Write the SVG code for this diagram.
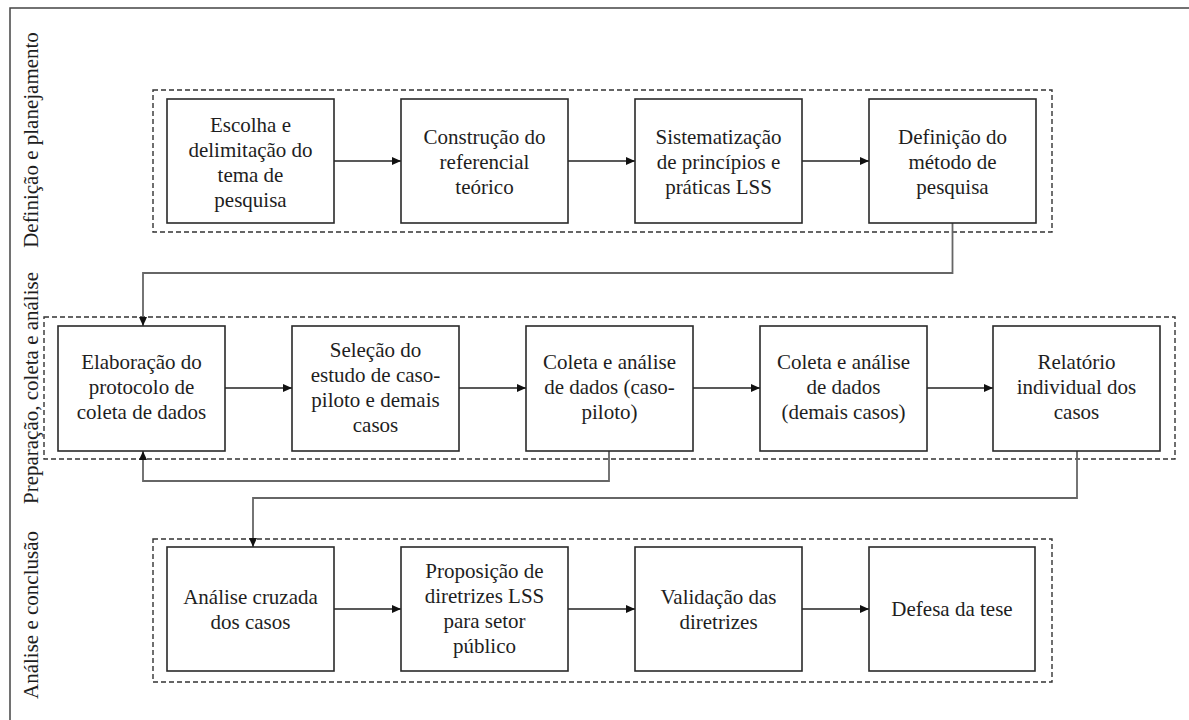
<svg xmlns="http://www.w3.org/2000/svg" width="1189" height="720" viewBox="0 0 1189 720" font-family="Liberation Serif">
  <style>
    .frame { fill: none; stroke: #333; stroke-width: 1.4; stroke-dasharray: 5 3; }
    .box { fill: #fff; stroke: #2a2a2a; stroke-width: 1.6; }
    text { font-size: 21px; fill: #1e1e1e; text-anchor: middle; }
    .arrow { fill: none; stroke: #222; stroke-width: 1.5; marker-end: url(#head); }
    .route { fill: none; stroke: #666; stroke-width: 1.8; marker-end: url(#head); }
    .border { fill: none; stroke: #444; stroke-width: 1.5; }
  </style>
  <defs>
    <marker id="head" markerUnits="userSpaceOnUse" markerWidth="10" markerHeight="8" refX="9" refY="4" orient="auto">
      <path d="M0,0 L9,4 L0,8 z" fill="#111"/>
    </marker>
  </defs>

  <rect width="1189" height="720" fill="#fff"/>

  <!-- outer border (top and left edges) -->
  <path class="border" d="M10,720 V8 H1189"/>

  <!-- phase labels -->
  <g id="phases">
    <text font-family="Liberation Serif" transform="translate(38,140) rotate(-90)">Definição e planejamento</text>
    <text font-family="Liberation Serif" transform="translate(38,388) rotate(-90)">Preparação, coleta e análise</text>
    <text font-family="Liberation Serif" transform="translate(38,615) rotate(-90)">Análise e conclusão</text>
  </g>

  <!-- phase frames -->
  <g id="frames">
    <rect class="frame" x="153" y="90" width="899" height="142"/>
    <rect class="frame" x="44" y="317" width="1131" height="142"/>
    <rect class="frame" x="153" y="539" width="899" height="143"/>
  </g>

  <!-- connectors -->
  <g id="connectors">
    <line class="arrow" x1="334" y1="161" x2="401" y2="161"/>
    <line class="arrow" x1="568" y1="161" x2="635" y2="161"/>
    <line class="arrow" x1="802" y1="161" x2="869" y2="161"/>
    <path class="route" d="M952.5,223 V273 H143 V326"/>
    <line class="arrow" x1="225" y1="388" x2="292" y2="388"/>
    <line class="arrow" x1="459" y1="388" x2="526" y2="388"/>
    <line class="arrow" x1="693" y1="388" x2="760" y2="388"/>
    <line class="arrow" x1="927" y1="388" x2="993" y2="388"/>
    <path class="route" d="M609,451 V481 H143 V451"/>
    <path class="route" d="M1077,451 V498 H253 V547"/>
    <line class="arrow" x1="334" y1="609" x2="401" y2="609"/>
    <line class="arrow" x1="568" y1="609" x2="635" y2="609"/>
    <line class="arrow" x1="802" y1="609" x2="869" y2="609"/>
  </g>

  <!-- row 1 -->
  <g id="n1">
    <rect class="box" x="167" y="99" width="167" height="124"/>
    <text font-family="Liberation Serif" x="250.5" y="132">Escolha e</text>
    <text font-family="Liberation Serif" x="250.5" y="157">delimitação do</text>
    <text font-family="Liberation Serif" x="250.5" y="182">tema de</text>
    <text font-family="Liberation Serif" x="250.5" y="207">pesquisa</text>
  </g>
  <g id="n2">
    <rect class="box" x="401" y="99" width="167" height="124"/>
    <text font-family="Liberation Serif" x="484.5" y="144">Construção do</text>
    <text font-family="Liberation Serif" x="484.5" y="169">referencial</text>
    <text font-family="Liberation Serif" x="484.5" y="194">teórico</text>
  </g>
  <g id="n3">
    <rect class="box" x="635" y="99" width="167" height="124"/>
    <text font-family="Liberation Serif" x="718.5" y="144">Sistematização</text>
    <text font-family="Liberation Serif" x="718.5" y="169">de princípios e</text>
    <text font-family="Liberation Serif" x="718.5" y="194">práticas LSS</text>
  </g>
  <g id="n4">
    <rect class="box" x="869" y="99" width="167" height="124"/>
    <text font-family="Liberation Serif" x="952.5" y="144">Definição do</text>
    <text font-family="Liberation Serif" x="952.5" y="169">método de</text>
    <text font-family="Liberation Serif" x="952.5" y="194">pesquisa</text>
  </g>

  <!-- row 2 -->
  <g id="n5">
    <rect class="box" x="58" y="326" width="167" height="125"/>
    <text font-family="Liberation Serif" x="141.5" y="369">Elaboração do</text>
    <text font-family="Liberation Serif" x="141.5" y="394">protocolo de</text>
    <text font-family="Liberation Serif" x="141.5" y="419">coleta de dados</text>
  </g>
  <g id="n6">
    <rect class="box" x="292" y="326" width="167" height="125"/>
    <text font-family="Liberation Serif" x="375.5" y="357">Seleção do</text>
    <text font-family="Liberation Serif" x="375.5" y="382">estudo de caso-</text>
    <text font-family="Liberation Serif" x="375.5" y="407">piloto e demais</text>
    <text font-family="Liberation Serif" x="375.5" y="432">casos</text>
  </g>
  <g id="n7">
    <rect class="box" x="526" y="326" width="167" height="125"/>
    <text font-family="Liberation Serif" x="609.5" y="369">Coleta e análise</text>
    <text font-family="Liberation Serif" x="609.5" y="394">de dados (caso-</text>
    <text font-family="Liberation Serif" x="609.5" y="419">piloto)</text>
  </g>
  <g id="n8">
    <rect class="box" x="760" y="326" width="167" height="125"/>
    <text font-family="Liberation Serif" x="843.5" y="369">Coleta e análise</text>
    <text font-family="Liberation Serif" x="843.5" y="394">de dados</text>
    <text font-family="Liberation Serif" x="843.5" y="419">(demais casos)</text>
  </g>
  <g id="n9">
    <rect class="box" x="993" y="326" width="167" height="125"/>
    <text font-family="Liberation Serif" x="1076.5" y="369">Relatório</text>
    <text font-family="Liberation Serif" x="1076.5" y="394">individual dos</text>
    <text font-family="Liberation Serif" x="1076.5" y="419">casos</text>
  </g>

  <!-- row 3 -->
  <g id="n10">
    <rect class="box" x="167" y="547" width="167" height="124"/>
    <text font-family="Liberation Serif" x="250.5" y="604">Análise cruzada</text>
    <text font-family="Liberation Serif" x="250.5" y="629">dos casos</text>
  </g>
  <g id="n11">
    <rect class="box" x="401" y="547" width="167" height="124"/>
    <text font-family="Liberation Serif" x="484.5" y="578">Proposição de</text>
    <text font-family="Liberation Serif" x="484.5" y="603">diretrizes LSS</text>
    <text font-family="Liberation Serif" x="484.5" y="628">para setor</text>
    <text font-family="Liberation Serif" x="484.5" y="653">público</text>
  </g>
  <g id="n12">
    <rect class="box" x="635" y="547" width="167" height="124"/>
    <text font-family="Liberation Serif" x="718.5" y="604">Validação das</text>
    <text font-family="Liberation Serif" x="718.5" y="629">diretrizes</text>
  </g>
  <g id="n13">
    <rect class="box" x="869" y="547" width="166" height="124"/>
    <text font-family="Liberation Serif" x="952" y="616">Defesa da tese</text>
  </g>
</svg>
